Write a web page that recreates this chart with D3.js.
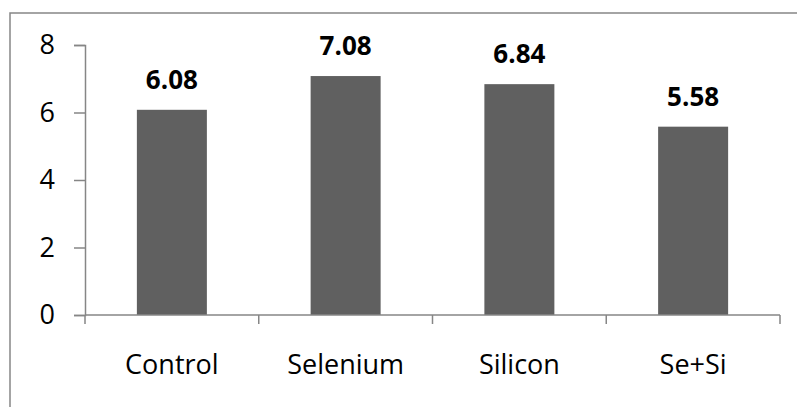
<!doctype html>
<html>
<head>
<script src="https://cdn.jsdelivr.net/npm/d3@7/dist/d3.min.js"></script>
<style>
body{margin:0;background:#fff;}
text{font-family:"Open Sans",sans-serif;}
</style>
</head>
<body>
<svg id="chart"></svg>
<script>
var categories=["Control","Selenium","Silicon","Se+Si"];
var values=[6.08,7.08,6.84,5.58];
var yTicks=[0,2,4,6,8];

var width=797,height=407;
var svg=d3.select("#chart").attr("width",width).attr("height",height);

// outer frame (cut at right/bottom like the source)
svg.append("rect").attr("x",10).attr("y",13).attr("width",800).attr("height",420)
   .attr("fill","none").attr("stroke","#868686").attr("stroke-width",1.5);

var xb=d3.scaleBand().domain(categories).range([85,780]);
var y=d3.scaleLinear().domain([0,8]).range([315,45]);

svg.selectAll("rect.bar").data(values).enter().append("rect").attr("class","bar")
   .attr("x",(d,i)=>xb(categories[i])+xb.bandwidth()/2-35)
   .attr("width",70)
   .attr("y",d=>y(d))
   .attr("height",d=>y(0)-y(d))
   .attr("fill","#606060");

// y axis
var yax=svg.append("g").attr("transform","translate(85,0)")
   .call(d3.axisLeft(y).tickValues(yTicks).tickSize(11).tickPadding(19));
yax.select(".domain").attr("stroke","#868686").attr("stroke-width",1.5);
yax.selectAll(".tick line").attr("stroke","#868686").attr("stroke-width",1.5);
yax.selectAll(".tick text").attr("font-size","27px").attr("fill","#000").attr("font-family","Open Sans");

// x axis
var xax=svg.append("g").attr("transform","translate(0,315)");
xax.append("line").attr("x1",85).attr("x2",780).attr("stroke","#868686").attr("stroke-width",1.5);
var bounds=categories.map(c=>xb(c)).concat([xb.range()[1]]);
xax.selectAll("line.tk").data(bounds).enter().append("line").attr("class","tk")
   .attr("x1",d=>d).attr("x2",d=>d).attr("y1",0).attr("y2",9)
   .attr("stroke","#868686").attr("stroke-width",1.5);
xax.selectAll("text").data(categories).enter().append("text")
   .attr("x",d=>xb(d)+xb.bandwidth()/2).attr("y",59)
   .attr("text-anchor","middle").attr("font-size","27px").attr("fill","#000")
   .text(d=>d);

// value labels
svg.selectAll("text.val").data(values).enter().append("text").attr("class","val")
   .attr("x",(d,i)=>xb(categories[i])+xb.bandwidth()/2)
   .attr("y",d=>y(d)-21)
   .attr("text-anchor","middle").attr("font-size","26px").attr("font-weight","bold")
   .attr("fill","#000")
   .text(d=>d.toFixed(2));
</script>
</body>
</html>
